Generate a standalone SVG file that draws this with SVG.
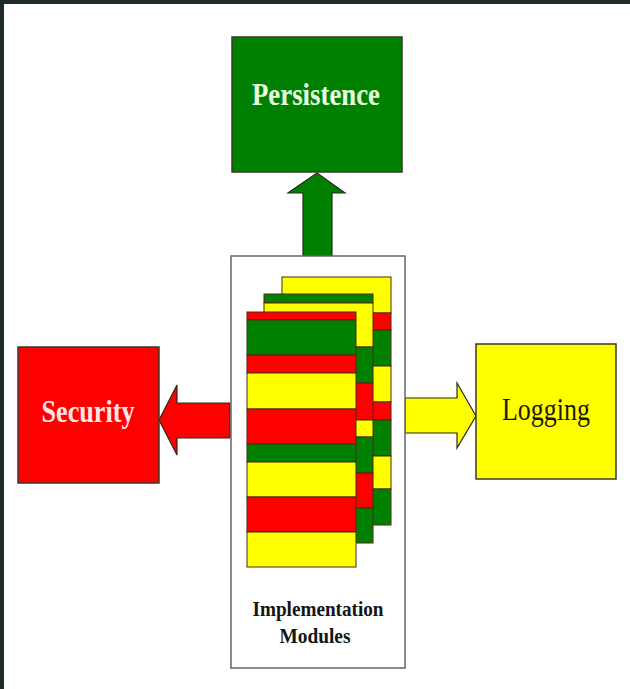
<svg xmlns="http://www.w3.org/2000/svg" width="630" height="689" viewBox="0 0 630 689">
  <style>
    .box { stroke: #3a3a2a; stroke-width: 1.5; }
    .g { fill: #008000; }
    .r { fill: #ff0000; }
    .y { fill: #ffff00; }
    .band { stroke: #4a2a10; stroke-width: 1; }
    .arrow { stroke: #2a2a1a; stroke-width: 1.2; stroke-linejoin: miter; }
    .lbl { font-family: "Liberation Serif", "Times New Roman", serif; font-size: 32px; text-anchor: middle; }
    .mod { font-family: "Liberation Serif", "Times New Roman", serif; font-size: 20px; font-weight: bold; fill: #151515; text-anchor: middle; }
  </style>

  <!-- page background and dark frame -->
  <rect x="0" y="0" width="630" height="689" fill="#ffffff"/>
  <rect x="0" y="0" width="630" height="4" fill="#1f282b"/>
  <rect x="0" y="0" width="4" height="689" fill="#1f282b"/>

  <!-- arrows from the module container to each concern -->
  <g id="connectors">
    <polygon class="arrow g" points="303,256 303,193 288,193 317,173 345,193 332,193 332,256"/>
    <polygon class="arrow r" points="230,403 177,403 177,385 159,420 177,455 177,438 230,438"/>
    <polygon class="arrow y" points="405,398 457,398 457,383 476,416 457,448 457,433 405,433"/>
  </g>

  <g id="persistence">
    <rect class="box g" x="232" y="37" width="170" height="135"/>
    <text class="lbl" x="316" y="105" font-weight="bold" fill="#e6ffe0" textLength="128" lengthAdjust="spacingAndGlyphs">Persistence</text>
  </g>

  <g id="security">
    <rect class="box r" x="18" y="347" width="141" height="136"/>
    <text class="lbl" x="88" y="422" font-weight="bold" fill="#ffe6e6" textLength="93" lengthAdjust="spacingAndGlyphs">Security</text>
  </g>

  <g id="logging">
    <rect class="box y" x="476" y="344" width="140" height="135"/>
    <text class="lbl" x="546" y="420" fill="#1a1a00" textLength="88" lengthAdjust="spacingAndGlyphs">Logging</text>
  </g>

  <g id="implementation-modules">
    <rect x="231" y="256" width="174" height="412" fill="#ffffff" stroke="#666666" stroke-width="1.5"/>

    <!-- back module -->
    <g class="band">
      <rect class="y" x="282" y="277" width="109" height="36"/>
      <rect class="r" x="282" y="313" width="109" height="17"/>
      <rect class="g" x="282" y="330" width="109" height="36"/>
      <rect class="y" x="282" y="366" width="109" height="36"/>
      <rect class="r" x="282" y="402" width="109" height="18"/>
      <rect class="g" x="282" y="420" width="109" height="36"/>
      <rect class="y" x="282" y="456" width="109" height="33"/>
      <rect class="g" x="282" y="489" width="109" height="36"/>
    </g>

    <!-- middle module -->
    <g class="band">
      <rect class="g" x="264" y="294" width="109" height="9"/>
      <rect class="y" x="264" y="303" width="109" height="44"/>
      <rect class="g" x="264" y="347" width="109" height="36"/>
      <rect class="r" x="264" y="383" width="109" height="37"/>
      <rect class="y" x="264" y="420" width="109" height="17"/>
      <rect class="g" x="264" y="437" width="109" height="36"/>
      <rect class="r" x="264" y="473" width="109" height="35"/>
      <rect class="g" x="264" y="508" width="109" height="35"/>
    </g>

    <!-- front module -->
    <g class="band">
      <rect class="r" x="247" y="312" width="109" height="8"/>
      <rect class="g" x="247" y="320" width="109" height="35"/>
      <rect class="r" x="247" y="355" width="109" height="18"/>
      <rect class="y" x="247" y="373" width="109" height="36"/>
      <rect class="r" x="247" y="409" width="109" height="35"/>
      <rect class="g" x="247" y="444" width="109" height="18"/>
      <rect class="y" x="247" y="462" width="109" height="35"/>
      <rect class="r" x="247" y="497" width="109" height="35"/>
      <rect class="y" x="247" y="532" width="109" height="35"/>
    </g>

    <text class="mod" x="318" y="616" textLength="131" lengthAdjust="spacingAndGlyphs">Implementation</text>
    <text class="mod" x="315" y="643" textLength="71" lengthAdjust="spacingAndGlyphs">Modules</text>
  </g>
</svg>
